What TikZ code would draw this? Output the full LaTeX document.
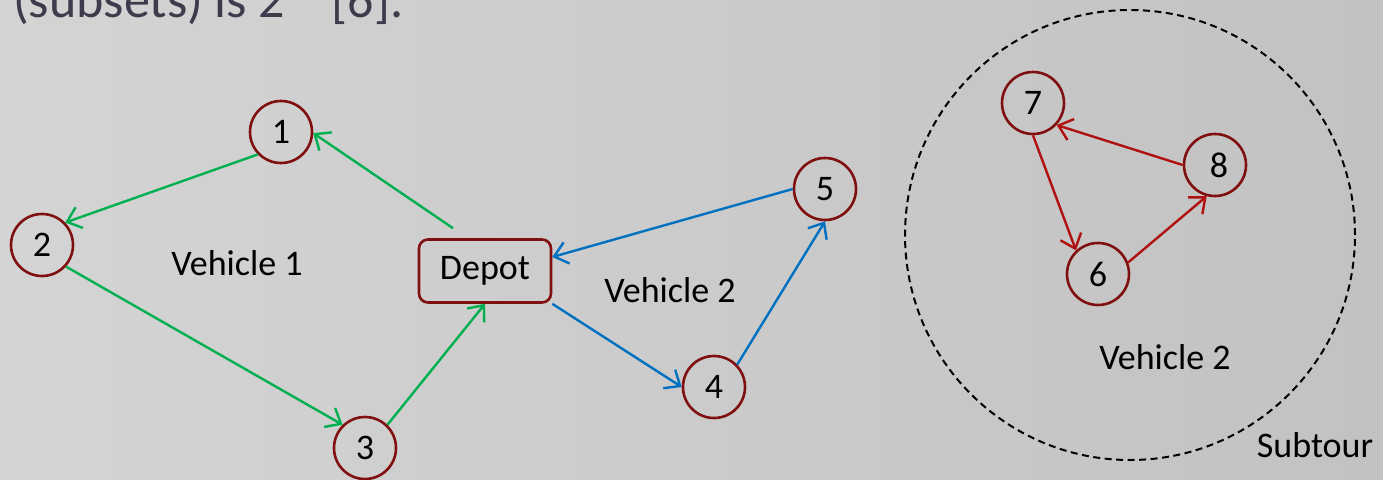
\documentclass[tikz,border=0pt]{standalone}
\usepackage{fontspec}
\setmainfont{Carlito}
\usetikzlibrary{arrows.meta}
\definecolor{bgL}{RGB}{212,212,212}
\definecolor{bgR}{RGB}{194,194,194}
\definecolor{nodered}{RGB}{128,16,16}
\definecolor{vgreen}{RGB}{0,176,80}
\definecolor{vblue}{RGB}{0,112,192}
\definecolor{vred}{RGB}{176,16,16}
\definecolor{toptext}{RGB}{60,60,76}
\begin{document}
\begin{tikzpicture}[x=1pt,y=-1pt,
  big/.style={font=\fontsize{36}{40}\selectfont},
  city/.style={circle, draw=nodered, line width=2.6pt, minimum size=62pt, inner sep=0pt, big},
  depotbox/.style={rectangle, rounded corners=9pt, draw=nodered, line width=2.6pt, minimum width=132pt, minimum height=63pt, inner sep=0pt, big},
  lbl/.style={inner sep=0pt, big},
  route/.style={line width=2.4pt, -{Straight Barb[length=13pt,width=22pt]}},
  g/.style={route, draw=vgreen},
  b/.style={route, draw=vblue},
  r/.style={route, draw=vred},
]
\useasboundingbox (0,0) rectangle (1383,479);
\clip (0,0) rectangle (1383,479);
\shade[left color=bgL, right color=bgR] (0,0) rectangle (1383,479);

\node[anchor=base west, inner sep=0pt, text=toptext, font=\fontsize{52}{60}\selectfont] (top) at (13,17) {(subsets) is 2\hspace{0.9em}[6].};

% Vehicle 1 / 2
\node[city] (n1) at (281,132) {1};
\node[city] (n2) at (42,245) {2};
\node[city] (n3) at (365,448) {3};
\node[depotbox] (dep) at (485,271) {Depot};
\node[city] (n4) at (714,387) {4};
\node[city] (n5) at (825,189) {5};
\node[lbl] (v1) at (237,263) {Vehicle 1};
\node[lbl] (v2) at (670,290) {Vehicle 2};

\draw[g] ([xshift=-32pt,yshift=10pt]dep.north) -- (n1.-2);
\draw[g] (n1.224) -- (n2.44);
\draw[g] (n2.-42) -- (n3.134);
\draw[g] (n3.46) -- (dep.south);

\draw[b] (n5.180) -- ([yshift=14pt]dep.east);
\draw[b] (dep.south east) -- (n4.180);
\draw[b] (n4.44) -- (n5.270);

% Subtour
\node[circle, draw=black, line width=2pt, dash pattern=on 7pt off 4.5pt, minimum size=450pt, inner sep=0pt] (sub) at (1130,235) {};
\node[city] (n7) at (1033,103) {7};
\node[city] (n8) at (1215,165) {\hspace{8pt}8};
\node[city] (n6) at (1098,274) {6};
\node[lbl] (v3) at (1165,357) {Vehicle 2};
\node[lbl] (st) at (1315,445) {Subtour};

\draw[r] (n8.180) -- (n7.-43);
\draw[r] (n7.270) -- (n6.133);
\draw[r] (n6.21) -- (n8.255);
\end{tikzpicture}
\end{document}
